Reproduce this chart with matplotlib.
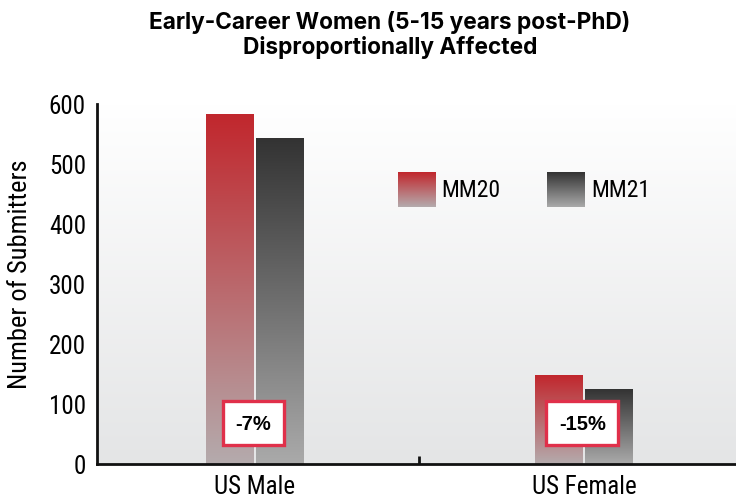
import numpy as np
import matplotlib
matplotlib.use("Agg")
import matplotlib.pyplot as plt
from matplotlib.colors import LinearSegmentedColormap
from matplotlib.patches import Rectangle
from matplotlib import font_manager

categories = ["US Male", "US Female"]
series_names = ["MM20", "MM21"]
mm20 = [583, 148]
mm21 = [543, 125]
changes = ["-7%", "-15%"]
yticks = [0, 100, 200, 300, 400, 500, 600]

names = {f.name for f in font_manager.fontManager.ttflist}
cond = [n for n in ["Liberation Sans Narrow", "Roboto Condensed", "DejaVu Sans"] if n in names]
cond_font = cond[0]

fig = plt.figure(figsize=(7.36, 5.02), dpi=100)
ax = fig.add_axes([97/736, 1-465/502, 1-97/736, (465-105)/502])
ax.set_xlim(-0.48, 1.462)
ax.set_ylim(0, 600)

# background gradient
bg = LinearSegmentedColormap.from_list("bg", ["#e4e5e6", "#ffffff"])
ax.imshow(np.linspace(0, 1, 256).reshape(-1, 1), extent=[-0.48, 1.462, 0, 600],
          aspect="auto", cmap=bg, origin="lower", zorder=0)

red = LinearSegmentedColormap.from_list("red", ["#b4abad", "#c1272d"])
gray = LinearSegmentedColormap.from_list("gray", ["#aaaaaa", "#333333"])

x = np.arange(len(categories))
w = 0.143
gap = 0.009
grad = np.linspace(0, 1, 256).reshape(-1, 1)
for vals, off, cmap in [(mm20, -(w+gap)/2, red), (mm21, (w+gap)/2, gray)]:
    bars = ax.bar(x + off, vals, width=w, color="none", edgecolor="none", zorder=2)
    for b in bars:
        x0, y0, bw, bh = b.get_x(), b.get_y(), b.get_width(), b.get_height()
        im = ax.imshow(grad, extent=[x0, x0+bw, y0, y0+bh], aspect="auto",
                       cmap=cmap, origin="lower", zorder=2)
        im.set_clip_path(b)

ax.set_xlim(-0.48, 1.462)
ax.set_ylim(0, 600)

for xi, lab in zip(x, changes):
    ax.text(xi - 0.005, 68, lab, ha="center", va="center", fontsize=14.5,
            fontweight="bold", family="Liberation Sans", zorder=5,
            bbox=dict(boxstyle="square,pad=0.62", facecolor="white",
                      edgecolor="#e0304a", linewidth=2.4))

for s in ["top", "right"]:
    ax.spines[s].set_visible(False)
for s in ["left", "bottom"]:
    ax.spines[s].set_linewidth(2)
    ax.spines[s].set_color("#111111")

ax.set_yticks(yticks)
ax.set_yticklabels([str(t) for t in yticks], family=cond_font, fontsize=18, stretch="condensed")
ax.tick_params(axis="y", length=0, pad=8)
ax.set_xticks(x)
ax.set_xticklabels(categories, family=cond_font, fontsize=18, stretch="condensed")
ax.set_xticks([0.5], minor=True)
ax.tick_params(axis="x", which="major", length=0, pad=7)
ax.tick_params(axis="x", which="minor", length=6, width=2, color="#111111", direction="in")
ax.set_ylabel("Number of Submitters", family=cond_font, fontsize=19, stretch="condensed")
ax.yaxis.set_label_coords(-0.102, 0.53)

# legend
lx = [0.434, 0.889]
for lxi, name, cmap in zip(lx, series_names, [red, gray]):
    r = Rectangle((lxi, 428), 0.115, 58, facecolor="none", edgecolor="none")
    ax.add_patch(r)
    im = ax.imshow(grad, extent=[lxi, lxi+0.115, 428, 486], aspect="auto",
                   cmap=cmap, origin="lower", zorder=3)
    ax.text(lxi + 0.133, 457, name, va="center", ha="left", family=cond_font,
            fontsize=17, stretch="condensed")

ax.set_xlim(-0.48, 1.462)
ax.set_ylim(0, 600)

fig.text(0.53, 0.955, "Early-Career Women (5-15 years post-PhD)", ha="center", va="center",
         family="Inter", fontweight="bold", fontsize=16.3)
fig.text(0.53, 0.905, "Disproportionally Affected", ha="center", va="center",
         family="Inter", fontweight="bold", fontsize=16.3)

fig.savefig("out.png", dpi=100)
